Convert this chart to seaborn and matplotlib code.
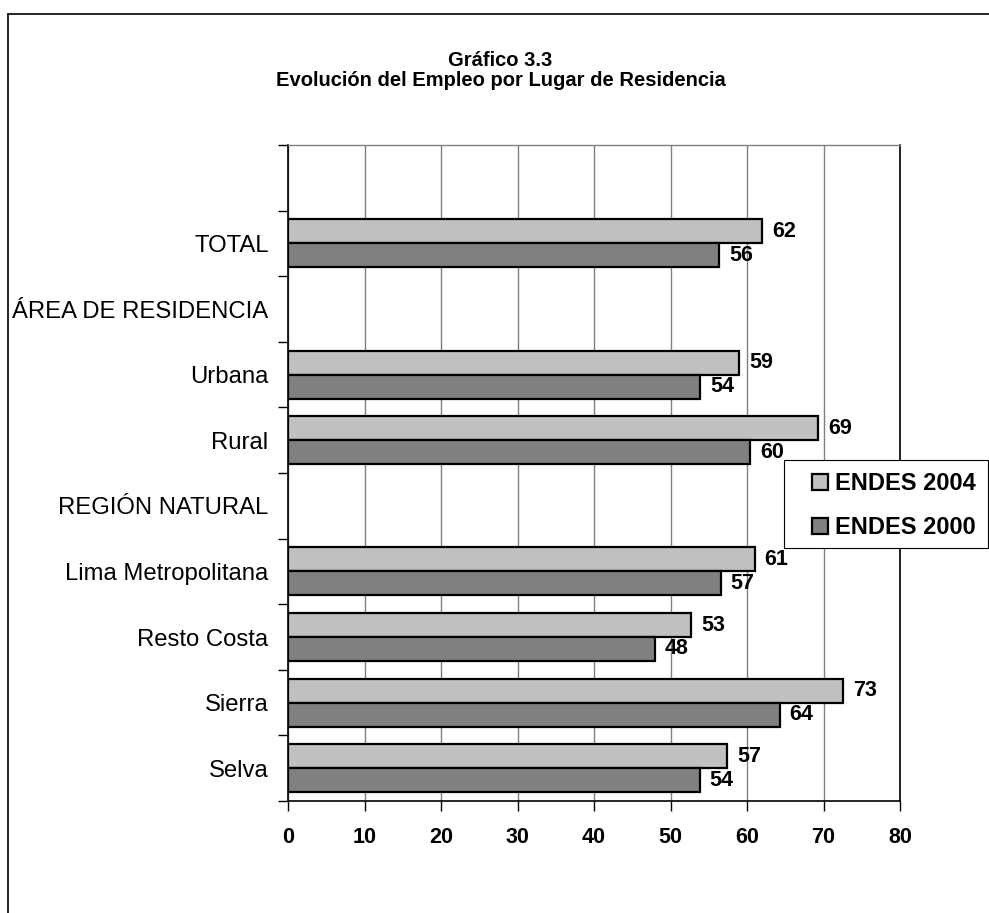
import numpy as np
import pandas as pd
import matplotlib.pyplot as plt
import seaborn as sns
from matplotlib.lines import Line2D
from matplotlib.patches import Rectangle

# Datos
orden = ["", "TOTAL", "ÁREA DE RESIDENCIA", "Urbana", "Rural", "REGIÓN NATURAL",
         "Lima Metropolitana", "Resto Costa", "Sierra", "Selva"]
categorias = ["TOTAL", "Urbana", "Rural", "Lima Metropolitana", "Resto Costa", "Sierra", "Selva"]
endes_2004 = [62.0, 59.0, 69.3, 61.0, 52.7, 72.6, 57.4]
endes_2000 = [56.4, 53.9, 60.4, 56.6, 48.0, 64.3, 53.8]
series = ["ENDES 2004", "ENDES 2000"]
colores = ["#C0C0C0", "#808080"]

df = pd.DataFrame({
    "categoria": categorias * 2,
    "valor": endes_2004 + endes_2000,
    "encuesta": [series[0]] * len(categorias) + [series[1]] * len(categorias),
})

sns.set_style("white")
plt.rcParams["font.family"] = ["Liberation Sans", "DejaVu Sans"]
for k in ["text.color", "axes.labelcolor", "xtick.color", "ytick.color"]:
    plt.rcParams[k] = "black"

fig = plt.figure(figsize=(9.89, 9.13), dpi=100)
ax = fig.add_axes([288 / 989, 1 - 801 / 913, 612 / 989, 656 / 913])

sns.barplot(data=df, x="valor", y="categoria", hue="encuesta", order=orden, hue_order=series,
            palette=colores, orient="h", width=0.73, edgecolor="black", linewidth=1.6,
            saturation=1, errorbar=None, ax=ax)

ax.set_xlim(0, 80)
ax.set_xticks(range(0, 81, 10))
ax.grid(axis="x", color="#808080", lw=1)
ax.grid(axis="y", visible=False)
ax.set_axisbelow(True)
ax.set_xlabel("")
ax.set_ylabel("")

# ticks estilo Excel en los limites de categoria
ax.set_yticks(np.arange(-0.5, len(orden), 1), minor=True)
ax.tick_params(axis="y", which="major", length=0, pad=14, labelsize=17.2, left=False)
ax.tick_params(axis="y", which="minor", length=7, width=1, color="black", left=True)
ax.tick_params(axis="x", length=7, width=1, color="black", bottom=True, pad=12, labelsize=15.5)
for t in ax.get_xticklabels():
    t.set_fontweight("bold")

for side in ["left", "bottom", "right"]:
    ax.spines[side].set_color("black")
    ax.spines[side].set_linewidth(1.2)
ax.spines["top"].set_color("#808080")
ax.spines["top"].set_linewidth(1)

for c in ax.containers:
    ax.bar_label(c, fmt="%.0f", padding=7, fontsize=15.5, fontweight="bold")

# leyenda con marco propio (mas ancho a la izquierda, como en Excel)
handles, labels = ax.get_legend_handles_labels()
leg = ax.legend(handles, labels, loc="upper left", bbox_to_anchor=(812 / 989, 1 - 472 / 913),
                bbox_transform=fig.transFigure, prop={"weight": "bold", "size": 17},
                handlelength=0.68, handleheight=0.68, handletextpad=0.3, borderpad=0,
                labelspacing=0.9, frameon=False, borderaxespad=0)
leg.set_zorder(6)
ax.add_patch(Rectangle((784 / 989, 1 - 548 / 913), 204 / 989, 88 / 913, transform=fig.transFigure,
                       facecolor="white", edgecolor="black", lw=0.8, zorder=5, clip_on=False))

# marco de la figura
fig.add_artist(Line2D([7.5 / 989, 7.5 / 989], [0, 1 - 14 / 913], color="black", lw=1.2,
                      transform=fig.transFigure))
fig.add_artist(Line2D([7.5 / 989, 1], [1 - 14 / 913, 1 - 14 / 913], color="black", lw=1.2,
                      transform=fig.transFigure))

fig.text(0.506, 1 - 61 / 913, "Gráfico 3.3", ha="center", va="center", fontsize=14.5, fontweight="bold")
fig.text(0.506, 1 - 81 / 913, "Evolución del Empleo por Lugar de Residencia", ha="center",
         va="center", fontsize=14.5, fontweight="bold")

fig.savefig("out.png", dpi=100)
